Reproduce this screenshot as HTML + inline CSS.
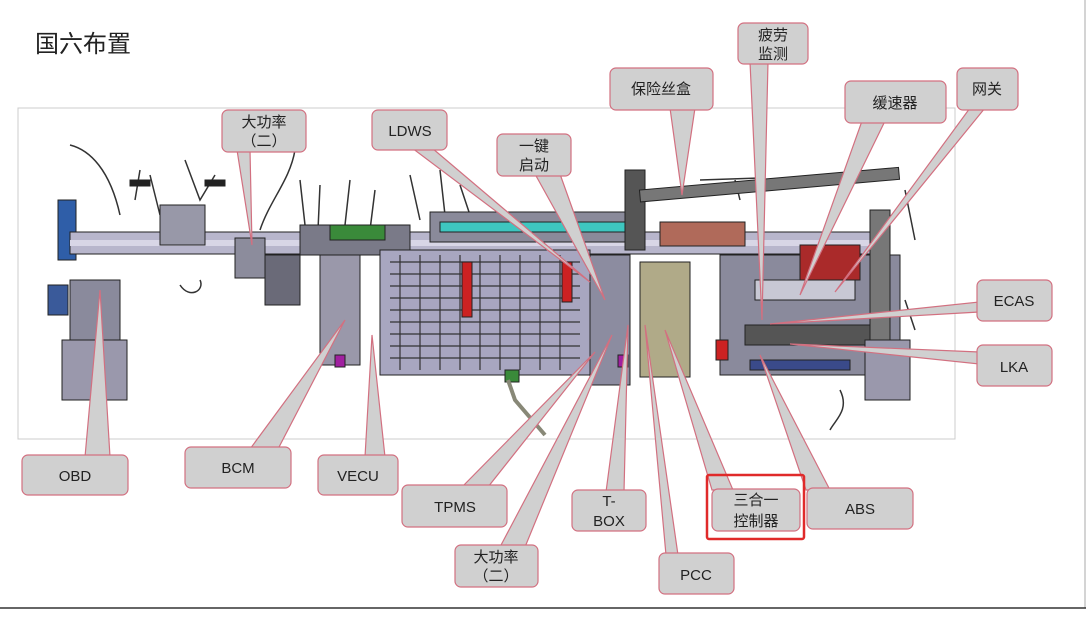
<!DOCTYPE html>
<html><head><meta charset="utf-8"><style>
body{margin:0;background:#fff;}
svg{display:block;}
text{font-family:"Liberation Sans","Noto Sans CJK SC",sans-serif;fill:#222;}
</style></head><body>
<svg width="1092" height="619" viewBox="0 0 1092 619" xmlns="http://www.w3.org/2000/svg">
<rect width="1092" height="619" fill="#fff"/>
<text x="35" y="52" font-size="24" fill="#333">国六布置</text>
<line x1="1085" y1="0" x2="1085" y2="608" stroke="#aaa" stroke-width="1"/>
<line x1="0" y1="608" x2="1086" y2="608" stroke="#333" stroke-width="1.5"/>
<rect x="18" y="108" width="937" height="331" fill="#fff" stroke="#ccc"/>

<!-- machinery approximation -->
<g stroke="#222" stroke-width="1">
<g fill="none" stroke="#333" stroke-width="1.5">
<path d="M70 145 C90 150 110 170 120 215"/>
<path d="M140 170 L135 200 M150 175 L160 215"/>
<path d="M185 160 L200 200 L215 175"/>
<path d="M295 150 C290 180 270 200 260 230"/>
<path d="M300 180 L305 225 M320 185 L318 230 M350 180 L345 225 M375 190 L370 230"/>
<path d="M410 175 L420 220 M440 170 L445 215 M460 185 L470 215"/>
<path d="M180 285 C190 300 205 290 200 280"/>
<path d="M700 180 L760 178 M735 180 L740 200"/>
<path d="M905 190 L915 240 M905 300 L915 330 M840 390 C850 410 835 420 830 430"/>
</g>
<rect x="58" y="200" width="18" height="60" fill="#2f5ea8"/>
<rect x="70" y="232" width="820" height="22" fill="#b8b6cc"/>
<rect x="70" y="240" width="820" height="6" fill="#d8d6e6" stroke="none"/>
<rect x="70" y="280" width="50" height="120" fill="#8a8a9c"/>
<rect x="62" y="340" width="65" height="60" fill="#9a98ac"/>
<rect x="48" y="285" width="20" height="30" fill="#3a5a9a"/>
<rect x="130" y="180" width="20" height="6" fill="#222"/>
<rect x="205" y="180" width="20" height="6" fill="#222"/>
<rect x="160" y="205" width="45" height="40" fill="#9898a8"/>
<rect x="235" y="238" width="30" height="40" fill="#8c8c9c"/>
<rect x="265" y="255" width="35" height="50" fill="#6a6a78"/>
<rect x="300" y="225" width="110" height="30" fill="#7a7a88"/>
<rect x="330" y="225" width="55" height="15" fill="#3a8a3a"/>
<rect x="320" y="255" width="40" height="110" fill="#9a98aa"/>
<rect x="380" y="250" width="210" height="125" fill="#a8a6c0"/>
<g stroke="#333" stroke-width="1.2" fill="none">
<path d="M390 262H580M390 274H580M390 286H580M390 298H580M390 310H580M390 322H580M390 334H580M390 346H580M390 358H580"/>
<path d="M400 255V370M420 255V370M440 255V370M460 255V370M480 255V370M500 255V370M520 255V370M540 255V370M560 255V370"/>
</g>
<rect x="462" y="262" width="10" height="55" fill="#cc2222"/>
<rect x="562" y="262" width="10" height="40" fill="#cc2222"/>
<rect x="430" y="212" width="200" height="30" fill="#8a8a9a"/>
<rect x="440" y="222" width="190" height="10" fill="#3ec6c0"/>
<rect x="590" y="255" width="40" height="130" fill="#8c8ca0"/>
<rect x="640" y="262" width="50" height="115" fill="#b0aa88"/>
<rect x="625" y="170" width="20" height="80" fill="#555"/>
<rect x="640" y="190" width="260" height="12" fill="#777" transform="rotate(-5 640 196)"/>
<rect x="660" y="222" width="85" height="24" fill="#b06a5a"/>
<rect x="720" y="255" width="180" height="120" fill="#8a8a9c"/>
<rect x="755" y="280" width="100" height="20" fill="#c8c8d4"/>
<rect x="745" y="325" width="140" height="20" fill="#555"/>
<rect x="750" y="360" width="100" height="10" fill="#3a4a8a"/>
<rect x="800" y="245" width="60" height="35" fill="#aa2a2a"/>
<rect x="870" y="210" width="20" height="180" fill="#777"/>
<rect x="865" y="340" width="45" height="60" fill="#9a98ac"/>
<rect x="716" y="340" width="12" height="20" fill="#cc2222"/>
<rect x="335" y="355" width="10" height="12" fill="#a020a0"/>
<rect x="618" y="355" width="10" height="12" fill="#a020a0"/>
<rect x="505" y="370" width="14" height="12" fill="#3a8a3a"/>
<path d="M508 380 L515 400 L545 435" fill="none" stroke="#887" stroke-width="4"/>
</g>

<!-- callouts -->
<g fill="#d0d0d0" stroke="#d27080" stroke-width="1.2">
<polygon points="237,150 250,150 252,245"/><rect x="222" y="110" width="84" height="42" rx="6"/>
<polygon points="412,148 432,148 590,282"/><rect x="372" y="110" width="75" height="40" rx="6"/>
<polygon points="535,174 560,174 605,300"/><rect x="497" y="134" width="74" height="42" rx="6"/>
<polygon points="670,108 695,108 682,195"/><rect x="610" y="68" width="103" height="42" rx="6"/>
<polygon points="750,62 768,62 762,320"/><rect x="738" y="23" width="70" height="41" rx="6"/>
<polygon points="862,121 885,121 800,295"/><rect x="845" y="81" width="101" height="42" rx="6"/>
<polygon points="970,108 985,108 835,292"/><rect x="957" y="68" width="61" height="42" rx="6"/>
<polygon points="979,302 979,312 770,324"/><rect x="977" y="280" width="75" height="41" rx="6"/>
<polygon points="979,352 979,364 790,344"/><rect x="977" y="345" width="75" height="41" rx="6"/>
<polygon points="85,457 110,457 100,290"/><rect x="22" y="455" width="106" height="40" rx="6"/>
<polygon points="250,449 278,449 345,320"/><rect x="185" y="447" width="106" height="41" rx="6"/>
<polygon points="365,457 385,457 372,335"/><rect x="318" y="455" width="80" height="40" rx="6"/>
<polygon points="462,487 488,487 595,352"/><rect x="402" y="485" width="105" height="42" rx="6"/>
<polygon points="500,547 525,547 612,335"/><rect x="455" y="545" width="83" height="42" rx="6"/>
<polygon points="606,492 624,492 628,325"/><rect x="572" y="490" width="74" height="41" rx="6"/>
<polygon points="666,555 678,555 645,325"/><rect x="659" y="553" width="75" height="41" rx="6"/>
<polygon points="712,490 733,490 665,330"/><rect x="712" y="489" width="88" height="42" rx="6"/>
<polygon points="806,490 830,490 760,355"/><rect x="807" y="488" width="106" height="41" rx="6"/>
</g>
<rect x="707" y="475" width="97" height="64" fill="none" stroke="#e02a2a" stroke-width="2.5" rx="2"/>

<g font-size="15" text-anchor="middle">
<text x="264" y="127">大功率</text><text x="264" y="146">（二）</text>
<text x="410" y="136">LDWS</text>
<text x="534" y="151">一键</text><text x="534" y="170">启动</text>
<text x="661" y="94">保险丝盒</text>
<text x="773" y="40">疲劳</text><text x="773" y="59">监测</text>
<text x="895" y="108">缓速器</text>
<text x="987" y="94">网关</text>
<text x="1014" y="306">ECAS</text>
<text x="1014" y="372">LKA</text>
<text x="75" y="481">OBD</text>
<text x="238" y="473">BCM</text>
<text x="358" y="481">VECU</text>
<text x="455" y="512">TPMS</text>
<text x="496" y="562">大功率</text><text x="496" y="581">（二）</text>
<text x="609" y="506">T-</text><text x="609" y="526">BOX</text>
<text x="696" y="580">PCC</text>
<text x="756" y="505">三合一</text><text x="756" y="526">控制器</text>
<text x="860" y="514">ABS</text>
</g>
</svg>
</body></html>
